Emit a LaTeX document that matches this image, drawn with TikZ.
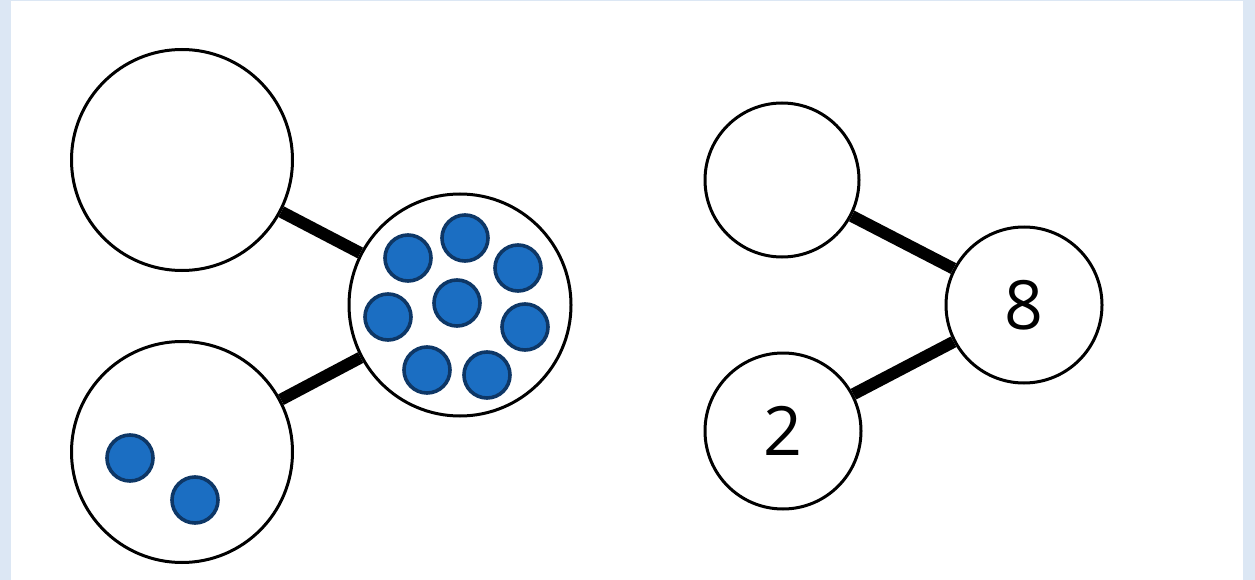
\documentclass[tikz,border=0pt]{standalone}
\usepackage{fontspec}
\setmainfont{Open Sans}
\definecolor{bord}{HTML}{DCE7F4}
\definecolor{dotfill}{HTML}{1B6EC2}
\definecolor{dotline}{HTML}{0E3766}
\begin{document}
\begin{tikzpicture}[x=1pt,y=-1pt,
  ring/.style={circle, draw=black, line width=3pt, fill=white, inner sep=0pt, minimum size=#1, font=\fontsize{68}{68}\selectfont},
  bar/.style={line width=12pt, black},
  dot/.style={circle, draw=dotline, line width=3.6pt, fill=dotfill, inner sep=0pt, minimum size=46pt}]
\fill[bord] (0,0) rectangle (1255,580);
\fill[white] (11,1) rectangle (1243,580);
\useasboundingbox (0,0) rectangle (1255,580);
% left group
\node[ring=221pt] (tl) at (182,160) {};
\node[ring=221pt] (bl) at (182,452) {};
\node[ring=222pt] (m) at (460,305) {};
\draw[bar] (tl) -- (m);
\draw[bar] (bl) -- (m);
\node[dot] (d1) at (408,258) {};
\node[dot] (d2) at (465,238) {};
\node[dot] (d3) at (518,268) {};
\node[dot] (d4) at (388,317) {};
\node[dot] (d5) at (457,303) {};
\node[dot] (d6) at (525,327) {};
\node[dot] (d7) at (427,370) {};
\node[dot] (d8) at (487,375) {};
\node[dot] (e1) at (130,458) {};
\node[dot] (e2) at (195,500) {};
% right group
\node[ring=154pt] (rt) at (782,180) {};
\node[ring=156pt] (r8) at (1024,305) {8};
\node[ring=156pt] (r2) at (783,431) {2};
\draw[bar] (rt) -- (r8);
\draw[bar] (r2) -- (r8);
\end{tikzpicture}
\end{document}
